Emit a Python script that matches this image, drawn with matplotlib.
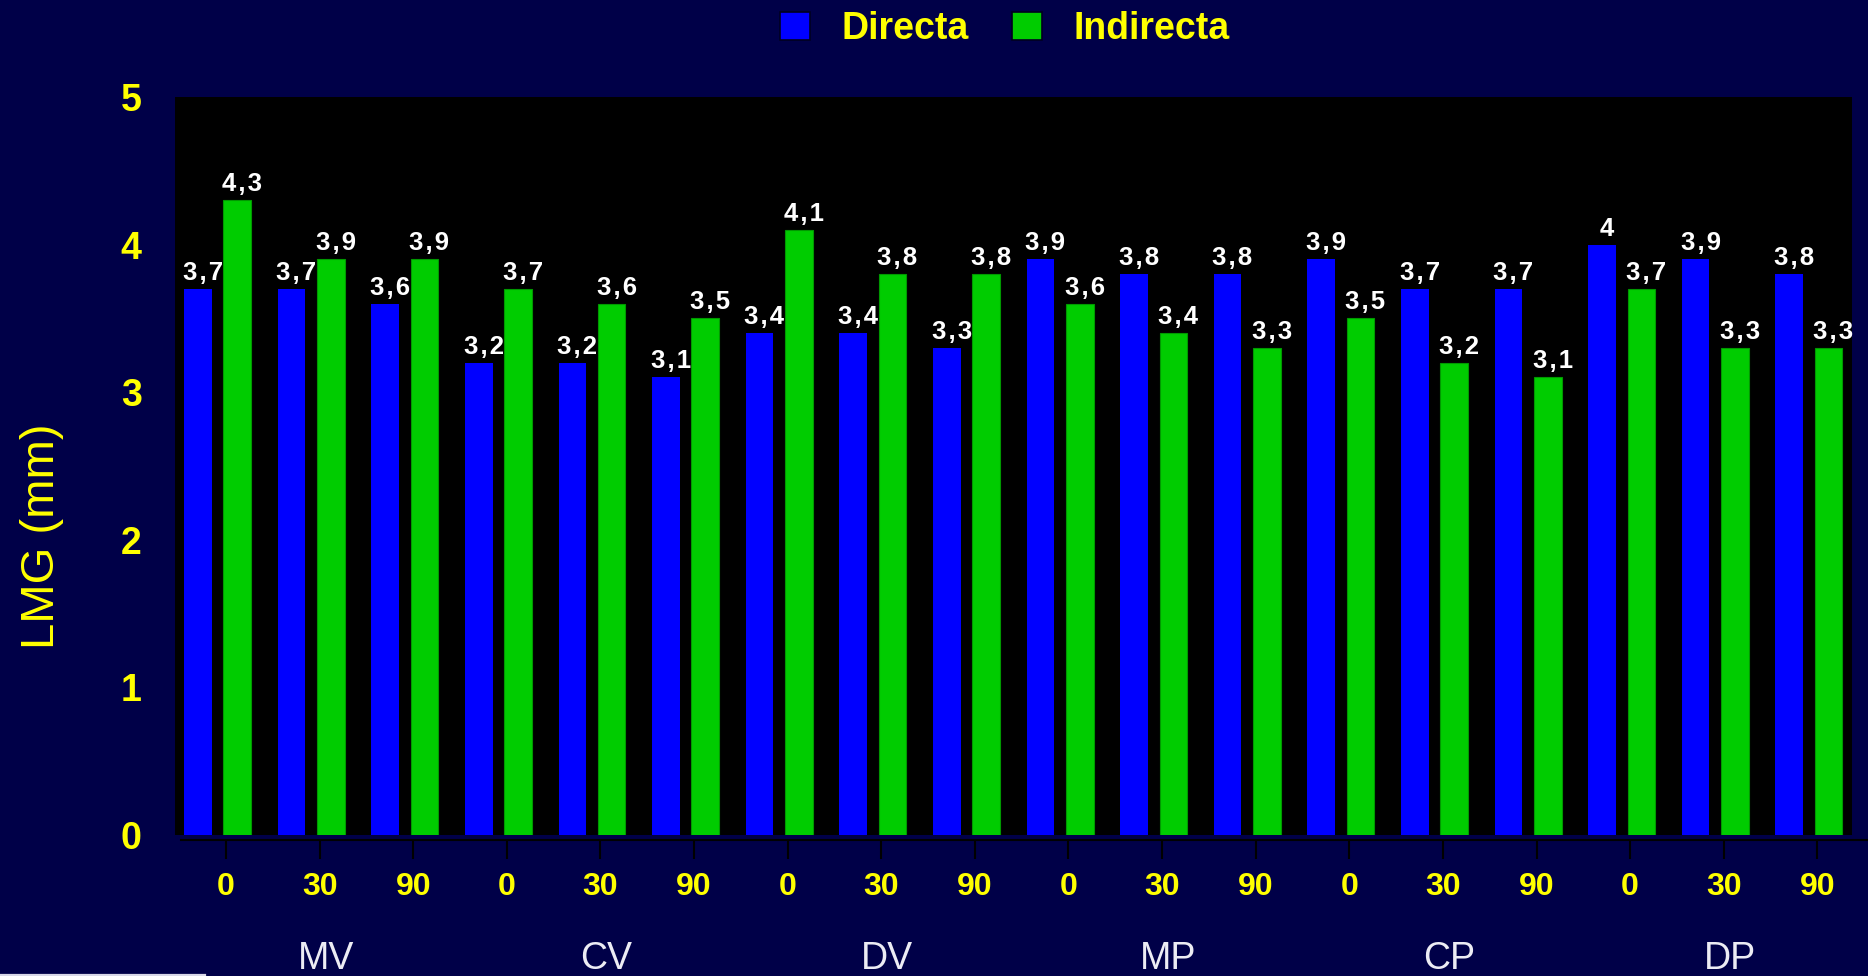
import matplotlib
matplotlib.use("Agg")
import matplotlib.pyplot as plt
from matplotlib.lines import Line2D
import numpy as np

plt.rcParams['font.family'] = ['Liberation Sans', 'DejaVu Sans']
plt.rcParams['font.weight'] = 'bold'

# ---- data ----
groups = ["MV", "CV", "DV", "MP", "CP", "DP"]
angles = ["0", "30", "90"]
directa = [3.7, 3.7, 3.6, 3.2, 3.2, 3.1, 3.4, 3.4, 3.3,
           3.9, 3.8, 3.8, 3.9, 3.7, 3.7, 4.0, 3.9, 3.8]
indirecta = [4.3, 3.9, 3.9, 3.7, 3.6, 3.5, 4.1, 3.8, 3.8,
             3.6, 3.4, 3.3, 3.5, 3.2, 3.1, 3.7, 3.3, 3.3]
series_names = ["Directa", "Indirecta"]
y_ticks = [0, 1, 2, 3, 4, 5]
y_label = "LMG (mm)"

# ---- style ----
NAVY = "#000048"
BLUE = "#0000FF"
GREEN = "#00CC00"
YELLOW = "#FFFF00"

W, H = 1868, 976
fig = plt.figure(figsize=(W / 100, H / 100), dpi=100, facecolor=NAVY)
ax = fig.add_axes([175 / W, (H - 835) / H, (1852 - 175) / W, (835 - 97) / H])
ax.set_facecolor("black")

n = len(directa)
x = np.arange(n)
bw = 0.295
off = 0.21
b1 = ax.bar(x - off, directa, bw, color=BLUE, label=series_names[0], zorder=2)
b2 = ax.bar(x + off, indirecta, bw, color=GREEN, edgecolor="#009900", linewidth=0.8,
            label=series_names[1], zorder=2)

ax.set_xlim(-0.455, n - 1 + 0.46)
ax.set_ylim(0, 5)


def fmt(v):
    if abs(v - round(v)) < 1e-9:
        return str(int(round(v)))
    s = f"{v:.1f}".replace(".", ",")
    return "\u200a".join(list(s))


for bars, vals in ((b1, directa), (b2, indirecta)):
    for rect, v in zip(bars, vals):
        ax.annotate(fmt(v), xy=(rect.get_x() + rect.get_width() / 2, v),
                    xytext=(3.5, 6.5), textcoords="offset points",
                    ha="center", va="baseline", color="white",
                    fontsize=18.5, fontweight="bold", zorder=3, annotation_clip=False)

# y axis
ax.tick_params(axis="y", length=0, pad=24, labelsize=27, labelcolor=YELLOW)
ax.set_yticks(y_ticks)
ax.set_yticklabels([str(t) for t in y_ticks])

# x axis
ax.tick_params(axis="x", direction="out", length=14, width=1.5, color="black",
               pad=9, labelsize=23, labelcolor=YELLOW)
ax.set_xticks(x + 0.09)
ax.set_xticklabels(angles * len(groups))

for s in ("top", "right", "left"):
    ax.spines[s].set_visible(False)
ax.spines["bottom"].set_position(("outward", 3.6))
ax.spines["bottom"].set_color("black")
ax.spines["bottom"].set_linewidth(1.5)
ax.spines["bottom"].set_bounds(-0.39, 17.63)

# group labels
for k, g in enumerate(groups):
    gx = 3 * k + 1.155
    ax.text(gx, -(959 - 835) / (835 - 97), g, transform=ax.get_xaxis_transform(),
            ha="center", va="center", fontsize=27, fontweight="normal", color="#ECECF4")

# y label
fig.text(42 / W, 1 - 536 / H, y_label, rotation=90, ha="center", va="center",
         color=YELLOW, fontsize=34, fontweight="normal")

# legend
leg = fig.legend(handles=[b1, b2], labels=series_names, loc="center",
                 bbox_to_anchor=(1005 / W, 1 - 29 / H), ncol=2, frameon=False,
                 fontsize=27, handlelength=0.8, handleheight=0.75,
                 handletextpad=0.85, columnspacing=1.15, borderaxespad=0)
for t in leg.get_texts():
    t.set_color(YELLOW)
    t.set_fontweight("bold")
for h in leg.legend_handles:
    h.set_edgecolor("#000020")
    h.set_linewidth(1.2)

# small white line at bottom left (slide artifact)
fig.add_artist(Line2D([0, 205 / W], [1.5 / H, 1.5 / H], color="#D8D8E8", lw=1.6,
                      transform=fig.transFigure))

fig.savefig("out.png", dpi=100, facecolor=NAVY)
